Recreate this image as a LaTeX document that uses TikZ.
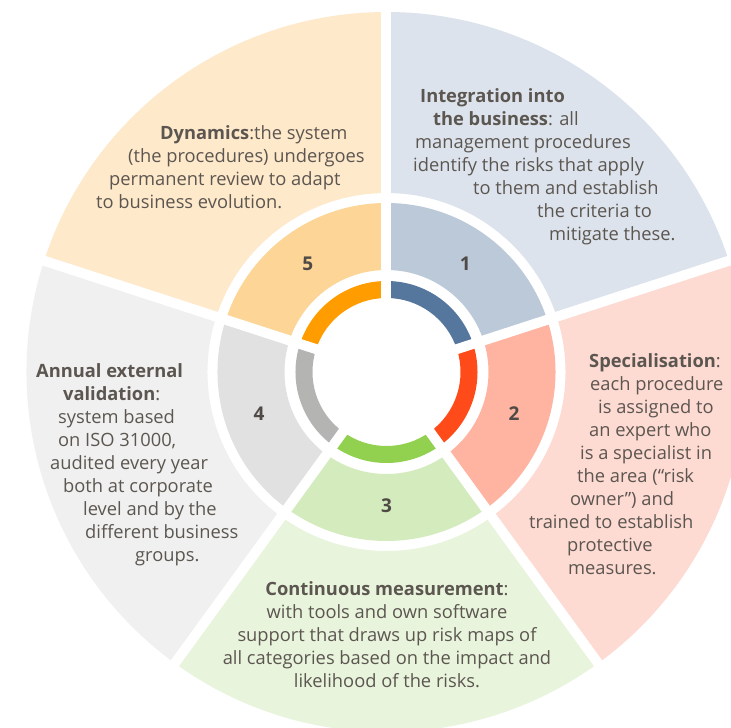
\documentclass[tikz,border=0pt]{standalone}
\usepackage{fontspec}
\setmainfont{Open Sans}

% ring colours, one row per step
\definecolor{oneout}{HTML}{DCE3EC}
\definecolor{onemid}{HTML}{BCC9D9}
\definecolor{onein}{HTML}{56779D}
\definecolor{twoout}{HTML}{FDDAD2}
\definecolor{twomid}{HTML}{FEB4A1}
\definecolor{twoin}{HTML}{FF4A1A}
\definecolor{threeout}{HTML}{E8F4DC}
\definecolor{threemid}{HTML}{D4EBBE}
\definecolor{threein}{HTML}{92D050}
\definecolor{fourout}{HTML}{F0F0F0}
\definecolor{fourmid}{HTML}{E1E1E1}
\definecolor{fourin}{HTML}{B4B5B3}
\definecolor{fiveout}{HTML}{FEE9CB}
\definecolor{fivemid}{HTML}{FDD597}
\definecolor{fivein}{HTML}{FF9C00}
\definecolor{txtgray}{HTML}{5C5650}
\definecolor{numgray}{HTML}{4F4A45}

% start angle, end angle, inner radius, outer radius, colour
\newcommand\ringpart[5]{%
  \fill[#5] (#1:#3) arc[start angle=#1, end angle=#2, radius=#3]
    -- (#2:#4) arc[start angle=#2, end angle=#1, radius=#4] -- cycle
}
% one step: three rings of the same sector
\newcommand\steprings[3]{%
  \ringpart{#1}{#2}{179}{360}{#3out};
  \ringpart{#1}{#2}{102}{169}{#3mid};
  \ringpart{#1}{#2}{74}{91}{#3in};
}

\begin{document}
\begin{tikzpicture}[x=1pt, y=1pt,
    desc/.style={text=txtgray, align=left, inner sep=0pt,
      font=\fontsize{18.3}{23}\selectfont},
    num/.style={text=numgray, inner sep=0pt,
      font=\fontsize{19}{19}\selectfont\bfseries}]
        \useasboundingbox (-386.5,-356) rectangle (344.5,372);
        \fill[white] (-386.5,-356) rectangle (344.5,372);
        \clip (-386.5,-356) rectangle (344.5,372);

        % The five steps
        \steprings{18}{90}{one}
        \steprings{-54}{18}{two}
        \steprings{-126}{-54}{three}
        \steprings{162}{234}{four}
        \steprings{90}{162}{five}
        % White cuts between the steps
        \foreach \a in {90,18,-54,-126,162}
          \draw[white, line width=10] (0,0) -- (\a:370);

        % Step numbers
        \node[num] (n1) at (54:134) {1};
        \node[num] (n2) at (-18:134) {2};
        \node[num] (n3) at (-90:134) {3};
        \node[num] (n4) at (198:134) {4};
        \node[num] (n5) at (126:134) {5};

        % Descriptions
        \node[desc,right] (d1) at (26.5,205) {
          \hspace*{7pt}\textbf{Integration into} \\
          \hspace*{20pt}\textbf{the business}: all \\
          \hspace*{2pt}management procedures \\
          identify the risks that apply \\
          \hspace*{60pt}to them and establish \\
          \hspace*{124pt}the criteria to \\
          \hspace*{136pt}mitigate these.
        };
        \node[desc,right] (d2) at (142.5,-92.5) {
          \hspace*{60pt}\textbf{Specialisation}: \\
          \hspace*{61pt}each procedure \\
          \hspace*{69pt}is assigned to \\
          \hspace*{60pt}an expert who \\
          \hspace*{51pt}is a specialist in \\
          \hspace*{48pt}the area (“risk \\
          \hspace*{41pt}owner”) and \\
          trained to establish \\
          \hspace*{38pt}protective \\
          \hspace*{39pt}measures.
        };
        \node[desc,align=center] (d3) at (0.5,-262.5) {
          \textbf{Continuous measurement}: \\
          with tools and own software \\
          support that draws up risk maps of \\
          all categories based on the impact and \\
          likelihood of the risks.
        };
        \node[desc,right] (d4) at (-350.5,-93) {
          \textbf{Annual external} \\
          \hspace*{27pt}\textbf{validation}: \\
          \hspace*{22pt}system based \\
          \hspace*{22pt}on ISO 31000, \\
          \hspace*{14pt}audited every year \\
          \hspace*{27pt}both at corporate \\
          \hspace*{47pt}level and by the \\
          \hspace*{49pt}different business \\
          \hspace*{99pt}groups.
        };
        \node[desc,right] (d5) at (-290.5,205) {
          \hspace*{64pt}\textbf{Dynamics}:the system \\
          \hspace*{32pt}(the procedures) undergoes \\
          \hspace*{13pt}permanent review to adapt \\
          to business evolution.
        };
\end{tikzpicture}
\end{document}
